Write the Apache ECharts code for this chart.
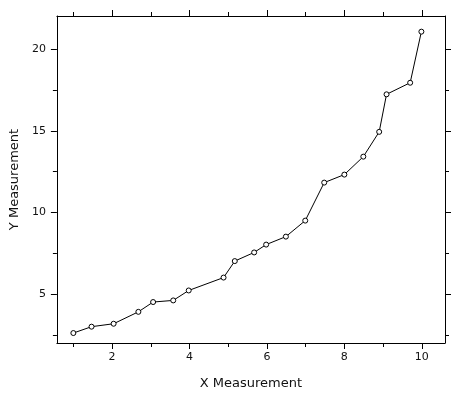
<!DOCTYPE html>
<html>
<head>
<meta charset="utf-8">
<script src="https://cdn.jsdelivr.net/npm/echarts@6/dist/echarts.min.js"></script>
<style>
  html, body { margin: 0; padding: 0; background: #fff; }
  #chart { width: 466px; height: 401px; }
</style>
</head>
<body>
<div id="chart"></div>
<script>
// values
const xValues = [1, 1.47, 2.04, 2.68, 3.06, 3.58, 3.98, 4.88, 5.17, 5.67,
                 5.98, 6.49, 6.99, 7.48, 8.0, 8.49, 8.9, 9.09, 9.7, 9.99];
const yValues = [2.61, 3.0, 3.18, 3.91, 4.51, 4.61, 5.22, 6.01, 7.02, 7.55,
                 8.03, 8.52, 9.5, 11.83, 12.32, 13.42, 14.94, 17.24, 17.95, 21.08];
const xMajorTicks = [2, 4, 6, 8, 10];
const xMinorTicks = [1, 3, 5, 7, 9];
const yMajorTicks = [5, 10, 15, 20];
const yMinorTicks = [2.5, 7.5, 12.5, 17.5];

const xRange = { min: 0.575, max: 10.6 };
const yRange = { min: 2.0, max: 22.04 };

const font = 'DejaVu Sans';
const black = '#000';

// one axis per tick set, all on the same scale
const makeAxis = (range, position, ticks, len, withLabels, name, nameGap) => ({
    type: 'value',
    position: position,
    min: range.min,
    max: range.max,
    splitLine: { show: false },
    axisLine: { show: withLabels !== null, lineStyle: { color: black, width: 1 } },
    axisTick: { show: true, inside: false, length: len, customValues: ticks,
                lineStyle: { color: black, width: 1 } },
    axisLabel: withLabels
        ? { show: true, customValues: ticks, color: '#111', fontFamily: font, fontSize: 11,
            margin: position === 'left' ? 11 : 9 }
        : { show: false },
    name: name || '',
    nameLocation: 'middle',
    nameGap: nameGap || 0,
    nameTextStyle: { color: '#111', fontFamily: font, fontSize: 13 }
});

const chart = echarts.init(document.getElementById('chart'));

chart.setOption({
    animation: false,
    grid: { left: 56, top: 16, right: 21, bottom: 58, containLabel: false },
    xAxis: [
        makeAxis(xRange, 'bottom', xMajorTicks, 6, true, 'X Measurement', 34),
        makeAxis(xRange, 'bottom', xMinorTicks, 4, null),
        makeAxis(xRange, 'top', xMajorTicks, 6, false),
        makeAxis(xRange, 'top', xMinorTicks, 4, null)
    ],
    yAxis: [
        makeAxis(yRange, 'left', yMajorTicks, 6, true, 'Y Measurement', 35),
        makeAxis(yRange, 'left', yMinorTicks, 4, null),
        makeAxis(yRange, 'right', yMajorTicks, 6, false),
        makeAxis(yRange, 'right', yMinorTicks, 4, null)
    ],
    series: [{
        type: 'line',
        xAxisIndex: 0,
        yAxisIndex: 0,
        data: xValues.map((x, i) => [x, yValues[i]]),
        symbol: 'circle',
        symbolSize: 5,
        showAllSymbol: true,
        lineStyle: { color: black, width: 1 },
        itemStyle: { color: '#fff', borderColor: black, borderWidth: 1 }
    }]
});
</script>
</body>
</html>
